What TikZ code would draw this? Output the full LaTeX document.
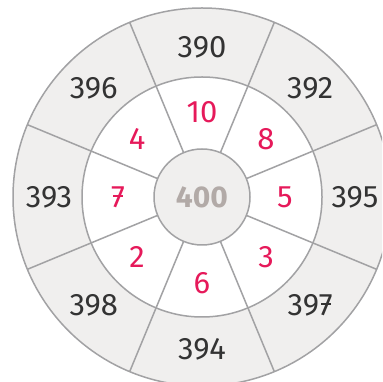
\documentclass[tikz,border=0pt]{standalone}
\usepackage{fontspec}
\setmainfont{Fira Sans}
\definecolor{ringgray}{HTML}{F0EFEE}
\definecolor{linegray}{HTML}{A2A2A4}
\definecolor{numred}{HTML}{E6195A}
\definecolor{numdark}{HTML}{333333}
\definecolor{centertext}{HTML}{B2AAA7}
\newcommand\crossseven{\ooalign{7\cr\hidewidth\raisebox{0.33em}{\rule{0.3em}{0.06em}}\hidewidth\cr}}
\begin{document}
\begin{tikzpicture}[x=1pt,y=1pt,
  ringline/.style={draw=linegray,line width=1.5pt},
  outernum/.style={text=numdark,font=\fontsize{31}{31}\selectfont,inner sep=0pt},
  innernum/.style={text=numred,font=\fontsize{31}{31}\selectfont,inner sep=0pt}]
\useasboundingbox (0,0) rectangle (382,382);
\clip (0,0) rectangle (382,382);
\coordinate (C) at (202,185);
\fill[ringgray] (C) circle (189);
\fill[white] (C) circle (120);
\foreach \a in {22.5,67.5,112.5,157.5,202.5,247.5,292.5,337.5}{
  \draw[ringline] ([shift={(\a:48)}]C) -- ([shift={(\a:189)}]C);
}
\draw[ringline] (C) circle (189);
\draw[ringline] (C) circle (120);
\node[circle,fill=ringgray,ringline,minimum size=96pt,inner sep=0pt,
  text=centertext,font=\bfseries\fontsize{30}{30}\selectfont] (c) at (C) {400};
% inner numbers
\node[innernum] (i90) at ([shift={(0,85)}]C) {10};
\node[innernum] (i45) at ([shift={(64,58)}]C) {8};
\node[innernum] (i0) at ([shift={(83,0)}]C) {5};
\node[innernum] (i315) at ([shift={(64,-60)}]C) {3};
\node[innernum] (i270) at ([shift={(0,-86)}]C) {6};
\node[innernum] (i225) at ([shift={(-65,-60)}]C) {2};
\node[innernum] (i180) at ([shift={(-84,0)}]C) {\crossseven};
\node[innernum] (i135) at ([shift={(-65,58)}]C) {4};
% outer numbers
\node[outernum] (o90) at ([shift={(90:150)}]C) {390};
\node[outernum] (o45) at ([shift={(45:153)}]C) {392};
\node[outernum] (o0) at ([shift={(0:153)}]C) {395};
\node[outernum] (o315) at ([shift={(-45:153)}]C) {39\crossseven};
\node[outernum] (o270) at ([shift={(-90:152)}]C) {394};
\node[outernum] (o225) at ([shift={(225:153)}]C) {398};
\node[outernum] (o180) at ([shift={(180:153)}]C) {393};
\node[outernum] (o135) at ([shift={(135:153)}]C) {396};
\end{tikzpicture}
\end{document}
